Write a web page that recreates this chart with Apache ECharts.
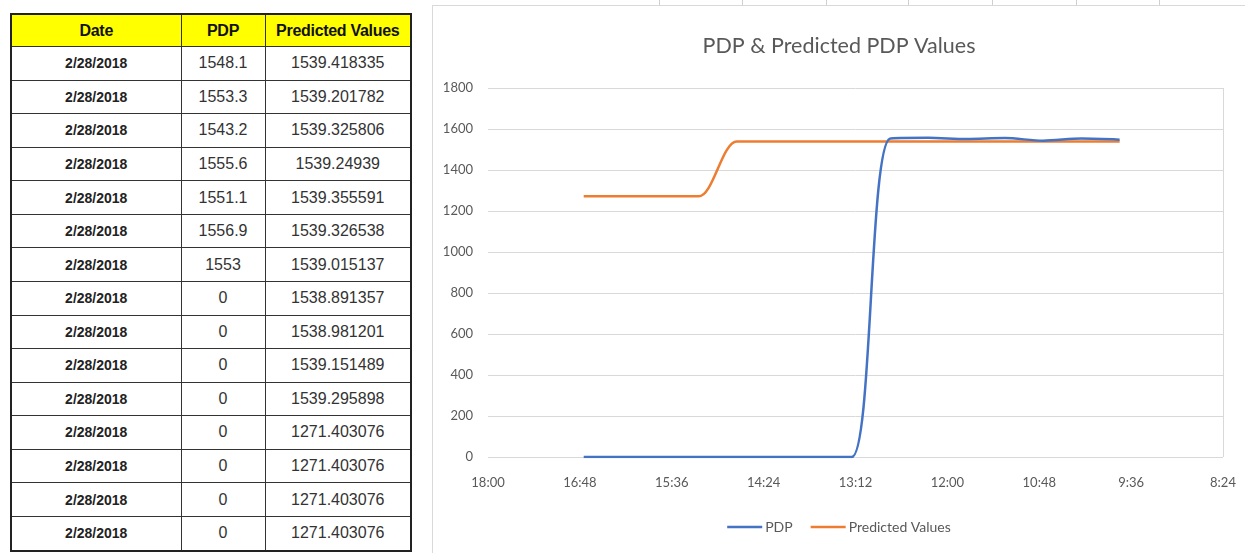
<!DOCTYPE html>
<html>
<head>
<meta charset="utf-8">
<script src="https://cdn.jsdelivr.net/npm/echarts@6/dist/echarts.min.js"></script>
<style>
    body { margin: 0; background: #fff; width: 1245px; height: 553px; overflow: hidden; position: relative; }
    #tbl {
        position: absolute; left: 10px; top: 13px; width: 400px; height: 539px;
        border-collapse: collapse; border: 2px solid #222;
        font-family: 'Liberation Sans', Arial, sans-serif; table-layout: fixed;
    }
    #tbl td, #tbl th { border: 1.5px solid #333; text-align: center; padding: 0; color: #333; font-size: 14px; }
    #tbl th { background: #ffff00; color: #111; font-size: 16px; height: 31px; letter-spacing: -0.3px; }
    #tbl td.d { font-weight: bold; color: #222; }
    #tbl td.n { font-family: 'Liberation Sans Narrow', 'Liberation Sans', sans-serif; font-size: 16px; }
    #cells { position: absolute; left: 432px; top: 0; width: 813px; height: 5px;
        border-bottom: 1px solid #d9d9d9; }
    .vl { position: absolute; top: 0; height: 5px; width: 1px; background: #d0d0d0; }
    #main { position: absolute; left: 432px; top: 5px; width: 813px; height: 548px;
        border-left: 1px solid #d9d9d9; border-top: 1px solid #d9d9d9; box-sizing: border-box; }
</style>
</head>
<body>
<table id="tbl"></table>
<div id="cells"></div>
<div id="main"></div>
<script>
    // table rows, oldest reading first (right end of the reversed time axis)
    var dates = ['2/28/2018', '2/28/2018', '2/28/2018', '2/28/2018', '2/28/2018', '2/28/2018', '2/28/2018', '2/28/2018',
        '2/28/2018', '2/28/2018', '2/28/2018', '2/28/2018', '2/28/2018', '2/28/2018', '2/28/2018'];
    var times = ['9:45', '10:15', '10:45', '11:15', '11:45', '12:15', '12:45', '13:15',
        '13:45', '14:15', '14:45', '15:15', '15:45', '16:15', '16:45'];
    var pdp = [1548.1, 1553.3, 1543.2, 1555.6, 1551.1, 1556.9, 1553, 0, 0, 0, 0, 0, 0, 0, 0];
    var predicted = [1539.418335, 1539.201782, 1539.325806, 1539.24939, 1539.355591, 1539.326538, 1539.015137,
        1538.891357, 1538.981201, 1539.151489, 1539.295898, 1271.403076, 1271.403076, 1271.403076, 1271.403076];
    var headers = ['Date', 'PDP', 'Predicted Values'];
    var yTicks = [0, 200, 400, 600, 800, 1000, 1200, 1400, 1600, 1800];
    var cellLines = [659, 742, 826, 908, 992, 1076, 1159];

    // build the table
    var tbl = document.getElementById('tbl');
    var html = '<colgroup><col style="width:170px"><col style="width:84px"><col style="width:146px"></colgroup>';
    html += '<tr>' + headers.map(function(h) { return '<th>' + h + '</th>'; }).join('') + '</tr>';
    for (var i = 0; i < dates.length; i++) {
        html += '<tr><td class="d">' + dates[i] + '</td><td class="n">' + pdp[i] + '</td><td class="n">' + predicted[i] + '</td></tr>';
    }
    tbl.innerHTML = html;

    var cells = document.getElementById('cells');
    cellLines.forEach(function(x) {
        var d = document.createElement('div');
        d.className = 'vl';
        d.style.left = (x - 432) + 'px';
        cells.appendChild(d);
    });

    function toMin(t) {
        var p = t.split(':');
        return Number(p[0]) * 60 + Number(p[1]);
    }
    function fmtMin(v) {
        var h = Math.floor(v / 60);
        var m = Math.round(v - h * 60);
        return h + ':' + (m < 10 ? '0' + m : m);
    }

    var pdpData = times.map(function(t, i) { return [toMin(t), pdp[i]]; });
    var predData = times.map(function(t, i) { return [toMin(t), predicted[i]]; });

    var grey = '#595959';
    var gridColor = '#d9d9d9';
    // only the line at 8:24 (axis min) is visible, like the plot's right edge
    var xSplitColors = [gridColor, 'rgba(0,0,0,0)', 'rgba(0,0,0,0)', 'rgba(0,0,0,0)', 'rgba(0,0,0,0)',
        'rgba(0,0,0,0)', 'rgba(0,0,0,0)', 'rgba(0,0,0,0)', 'rgba(0,0,0,0)'];

    var myChart = echarts.init(document.getElementById('main'));
    var option = {
        animation: false,
        title: {
            text: 'PDP & Predicted PDP Values',
            left: 'center',
            top: 24,
            textStyle: {
                fontFamily: 'Lato',
                fontSize: 21.5,
                fontWeight: 'normal',
                color: grey
            }
        },
        grid: {
            left: 55,
            right: 22,
            top: 82,
            bottom: 96
        },
        xAxis: {
            type: 'value',
            inverse: true,
            min: 504,
            max: 1080,
            interval: 72,
            axisLine: { show: false },
            axisTick: { show: false },
            axisLabel: {
                color: grey,
                fontFamily: 'Lato',
                fontSize: 13,
                margin: 19,
                formatter: fmtMin
            },
            splitLine: {
                show: true,
                lineStyle: { color: xSplitColors, width: 1 }
            }
        },
        yAxis: {
            type: 'value',
            min: yTicks[0],
            max: yTicks[yTicks.length - 1],
            interval: 200,
            axisLine: { show: false },
            axisTick: { show: false },
            axisLabel: {
                color: grey,
                fontFamily: 'Lato',
                fontSize: 13,
                margin: 15,
                formatter: function(v) { return String(v); }
            },
            splitLine: {
                lineStyle: { color: gridColor, width: 1 }
            }
        },
        legend: {
            bottom: 14,
            left: 'center',
            icon: 'rect',
            itemWidth: 35,
            itemHeight: 2.5,
            itemGap: 18,
            textStyle: {
                color: grey,
                fontFamily: 'Lato',
                fontSize: 14,
                padding: [0, 0, 0, -2]
            },
            data: ['PDP', 'Predicted Values']
        },
        series: [{
            name: 'PDP',
            type: 'line',
            data: pdpData,
            smooth: 0.3,
            symbol: 'none',
            z: 3,
            itemStyle: { color: '#4472c4' },
            lineStyle: { color: '#4472c4', width: 2.5 }
        }, {
            name: 'Predicted Values',
            type: 'line',
            data: predData,
            smooth: 0.3,
            symbol: 'none',
            z: 2,
            itemStyle: { color: '#ed7d31' },
            lineStyle: { color: '#ed7d31', width: 2.5 }
        }]
    };
    myChart.setOption(option);
</script>
</body>
</html>
